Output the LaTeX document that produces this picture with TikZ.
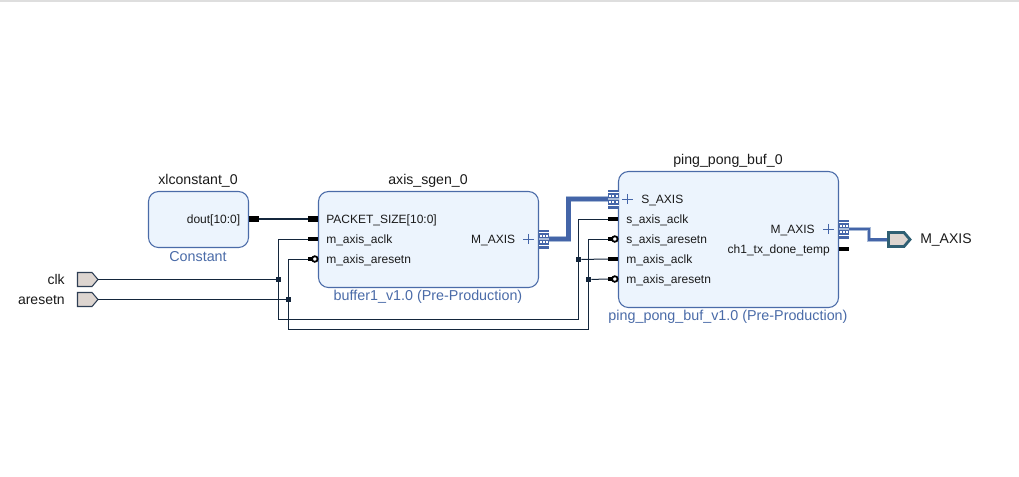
\documentclass[tikz,border=0pt]{standalone}
\usepackage{fontspec}
\setmainfont{Liberation Sans}
\definecolor{blockfill}{HTML}{ECF4FD}
\definecolor{blockline}{HTML}{4A6BA8}
\definecolor{net}{HTML}{14263C}
\definecolor{bus}{HTML}{4465A8}
\definecolor{busedge}{HTML}{A9BBD8}
\definecolor{portfill}{HTML}{DDD5D0}
\definecolor{portline}{HTML}{2F3F55}
\definecolor{busport}{HTML}{2F5F73}
\definecolor{label}{HTML}{1A1A1A}
\tikzset{
  px/.style={x=0.75pt,y=-0.75pt},
  block/.style={draw=blockline,fill=blockfill,line width=0.8pt,rounded corners=7.5pt},
  title/.style={font=\fontsize{10.6}{12}\selectfont,text=label,inner sep=0pt,yshift=-0.6pt},
  sub/.style={font=\fontsize{10.75}{12}\selectfont,text=blockline,inner sep=0pt,yshift=-0.6pt},
  pinr/.style={font=\fontsize{9}{11}\selectfont,text=label,inner sep=0pt,anchor=west,yshift=-1.2pt},
  pinl/.style={font=\fontsize{9}{11}\selectfont,text=label,inner sep=0pt,anchor=east,yshift=-1.2pt},
  extl/.style={font=\fontsize{10.5}{12}\selectfont,text=label,inner sep=0pt,yshift=-0.6pt},
  wire/.style={draw=net,line width=0.75pt},
  stub/.style={draw=black,line width=2.4pt},
  jn/.style={fill=net,inner sep=0pt,minimum size=3.8pt,shape=rectangle},
  bubble/.style={draw=black,fill=white,line width=1.35pt,circle,inner sep=0pt,minimum size=4.2pt},
  extport/.style={draw=portline,fill=portfill,line width=0.8pt,line join=miter},
  plusmark/.style={draw=bus,line width=0.7pt},
}
\newcommand{\busicon}[2]{%
  \fill[bus] (#1,#2-9.5) rectangle (#1+10.5,#2+9.5);
  \fill[white] (#1,#2-6.8) rectangle (#1+10.5,#2-5.8);
  \fill[white] (#1,#2+5.8) rectangle (#1+10.5,#2+6.8);
  \fill[busedge] (#1,#2-0.6) rectangle (#1+10.5,#2+0.6);
  \foreach \dx in {1.2,4.4,7.6} {
    \fill[white] (#1+\dx,#2-4.4) rectangle (#1+\dx+1.9,#2-2.4);
    \fill[white] (#1+\dx,#2+2.4) rectangle (#1+\dx+1.9,#2+4.4);}
}
\begin{document}
\begin{tikzpicture}[px]
\useasboundingbox (0,0) rectangle (1019,476);
\fill[white] (0,0) rectangle (1019,476);
\fill[black!13] (0,0) rectangle (1019,2);
% blocks
\draw[block] (148.5,191.5) rectangle (248.5,247.5);
\draw[block] (318.5,191.5) rectangle (538.5,287.5);
\draw[block] (618.5,171.5) rectangle (838.5,307.5);
\node[title] (t1) at (198,180) {xlconstant\_0};
\node[sub] (s1) at (198,256) {Constant};
\node[title] (t2) at (428,180) {axis\_sgen\_0};
\node[sub] (s2) at (428,296) {buffer1\_v1.0 (Pre-Production)};
\node[title] (t3) at (728,160) {ping\_pong\_buf\_0};
\node[sub] (s3) at (728,316) {ping\_pong\_buf\_v1.0 (Pre-Production)};
% pin labels
\node[pinl] (ldout) at (240.5,219) {dout[10:0]};
\node[pinr] (lps) at (326,219) {PACKET\_SIZE[10:0]};
\node[pinr] (lac) at (326,239) {m\_axis\_aclk};
\node[pinr] (lar) at (326,259) {m\_axis\_aresetn};
\node[pinl] (lm) at (515.5,239) {M\_AXIS};
\node[pinr] (lsa) at (641,199) {S\_AXIS};
\node[pinr] (lsc) at (626,219) {s\_axis\_aclk};
\node[pinr] (lsr) at (626,239) {s\_axis\_aresetn};
\node[pinr] (lmc) at (626,259) {m\_axis\_aclk};
\node[pinr] (lmr) at (626,279) {m\_axis\_aresetn};
\node[pinl] (lpm) at (815,229) {M\_AXIS};
\node[pinl] (lch) at (830,249) {ch1\_tx\_done\_temp};
% coordinates: pins
\coordinate (doutO) at (259,219);
\coordinate (doutE) at (248.5,219);
\coordinate (psI) at (308,219);
\coordinate (psE) at (318,219);
\coordinate (acI) at (308,239);
\coordinate (acE) at (318,239);
\coordinate (arI) at (308,259);
\coordinate (scI) at (608,219);
\coordinate (scE) at (618,219);
\coordinate (srI) at (608,239);
\coordinate (mcI) at (608,259);
\coordinate (mcE) at (618,259);
\coordinate (mrI) at (608,279);
\coordinate (chA) at (838.5,249);
\coordinate (chB) at (849,249);
\coordinate (busA) at (549,239);
\coordinate (busB) at (608,199);
\coordinate (busC) at (849,229);
% external ports
\draw[extport] (77.5,272.5) -- (92,272.5) -- (98,279.5) -- (92,286.5) -- (77.5,286.5) -- cycle;
\draw[extport] (77.5,292.5) -- (92,292.5) -- (98,299.5) -- (92,306.5) -- (77.5,306.5) -- cycle;
\coordinate (clkO) at (98,279.5);
\coordinate (rstO) at (98,299.5);
\node[extl,anchor=east] (lclk) at (65,279) {clk};
\node[extl,anchor=east] (lrst) at (65,299) {aresetn};
% junctions
\node[jn] (j1) at (278.5,279.5) {};
\node[jn] (j2) at (288.5,299.5) {};
\node[jn] (j3) at (578.5,259.5) {};
\node[jn] (j4) at (588.5,279.5) {};
% nets
\draw[wire] (clkO) -- (j1);
\draw[wire] (rstO) -- (j2);
\draw[wire] (acI) -- (278.5,239) -- (j1) -- (278.5,319.5) -- (578.5,319.5) -- (j3) -- (578.5,219) -- (scI);
\draw[wire] (arI) -- (288.5,259) -- (j2) -- (288.5,329.5) -- (588.5,329.5) -- (j4) -- (588.5,239) -- (srI);
\draw[wire] (j3) -- (mcI);
\draw[wire] (j4) -- (mrI);
% const net
\draw[draw=net,line width=2.2pt] (doutO) -- (psI);
\draw[draw=black,line width=3.8pt] (doutE) -- (doutO);
\draw[draw=black,line width=3.8pt] (psI) -- (psE);
% stubs
\draw[stub] (acI) -- (acE);
\draw[stub] (scI) -- (scE);
\draw[stub] (mcI) -- (mcE);
\draw[stub] (chA) -- (chB);
\draw[stub] (arI) -- (313,259);
\draw[stub] (srI) -- (613,239);
\draw[stub] (mrI) -- (613,279);
\node[bubble] (b1) at (314.8,259) {};
\node[bubble] (b2) at (614.8,239) {};
\node[bubble] (b3) at (614.8,279) {};
% bus wires
\draw[busedge,line width=4.4pt,line join=miter] (busA) -- (568.5,239) -- (568.5,199) -- (busB);
\draw[bus,line width=3.2pt,line join=miter] (busA) -- (568.5,239) -- (568.5,199) -- (busB);
\coordinate (outP) at (887,239.5);
\draw[busedge,line width=3pt,line join=miter] (busC) -- (869,229) -- (869,239.5) -- (outP);
\draw[bus,line width=2pt,line join=miter] (busC) -- (869,229) -- (869,239.5) -- (outP);
\draw[draw=busport,fill=portfill,line width=2.1pt,line join=miter] (888.5,232.5) -- (904,232.5) -- (910,239.5) -- (904,246.5) -- (888.5,246.5) -- cycle;
\node[extl,anchor=west] (lout) at (920,239) {M\_AXIS};
% bus icons
\busicon{538.5}{239}
\busicon{608}{199}
\busicon{838.5}{229}
% plus marks
\draw[plusmark] (523,239) -- (533.5,239) (528.2,233.8) -- (528.2,244.2);
\draw[plusmark] (622,199) -- (632.5,199) (627.2,193.8) -- (627.2,204.2);
\draw[plusmark] (823,229) -- (833.5,229) (828.2,223.8) -- (828.2,234.2);
\end{tikzpicture}
\end{document}
